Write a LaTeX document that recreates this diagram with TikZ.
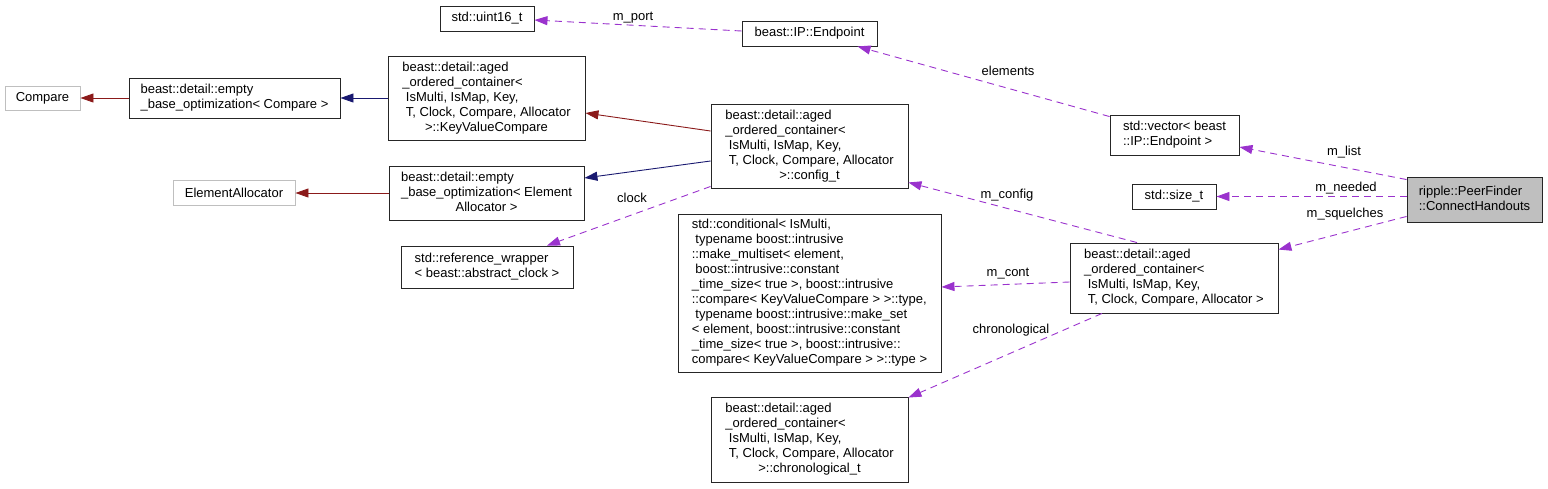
\documentclass[tikz,border=0pt]{standalone}
\usepackage{fontspec}
\setmainfont{Liberation Sans}
\usetikzlibrary{arrows.meta}
\definecolor{dred}{HTML}{8B1A1A}
\definecolor{dblue}{HTML}{191970}
\definecolor{dpurp}{HTML}{9A32CD}
\definecolor{lgray}{HTML}{BFBFBF}
\newcommand{\ctrline}[1]{\multicolumn{1}{@{}c@{}}{#1}}
\newcommand{\lines}[1]{\begin{tabular}{@{}l@{}}#1\end{tabular}}
\tikzset{
  cls/.style={draw=black!85, line width=0.9pt, fill=white, inner sep=0pt, align=left,
    font=\fontsize{13}{15}\selectfont},
  ext/.style={cls, draw=lgray},
  main/.style={cls, fill=lgray},
  tipa/.style={-{Triangle[length=13pt,width=9pt]}},
  redge/.style={draw=dred, line width=0.9pt, tipa},
  bedge/.style={draw=dblue, line width=0.9pt, tipa},
  pedge/.style={draw=dpurp, line width=0.9pt, dash pattern=on 7pt off 5pt, tipa},
  lbl/.style={inner sep=0pt, font=\fontsize{13}{15}\selectfont},
}
\begin{document}
\begin{tikzpicture}[x=1pt,y=-1pt]
\useasboundingbox (0,0) rectangle (1548,488);

\node[ext, minimum width=75pt, minimum height=24pt] (compare) at (42.5,98) {Compare};
\node[cls, minimum width=211pt, minimum height=40pt] (empcmp) at (234.5,98)
  {\lines{beast::detail::empty\\ \_base\_optimization< Compare >}};
\node[cls, minimum width=197pt, minimum height=84pt] (kvc) at (486.5,98)
  {\lines{beast::detail::aged\\ \_ordered\_container<\\ \ IsMulti, IsMap, Key,\\ \ T, Clock, Compare, Allocator\\ \ctrline{>::KeyValueCompare}}};
\node[ext, minimum width=122pt, minimum height=25pt] (elemalloc) at (234,193) {ElementAllocator};
\node[cls, minimum width=195pt, minimum height=54pt] (empea) at (486.5,193)
  {\lines{beast::detail::empty\\ \_base\_optimization< Element\\ \ctrline{Allocator >}}};
\node[cls, minimum width=172pt, minimum height=42pt] (refwrap) at (487,267)
  {\lines{std::reference\_wrapper\\ < beast::abstract\_clock >}};
\node[cls, minimum width=94pt, minimum height=25pt] (uint16) at (487,18.5) {std::uint16\_t};
\node[cls, minimum width=135pt, minimum height=25pt] (endpoint) at (809.5,33.5) {beast::IP::Endpoint};
\node[cls, minimum width=197pt, minimum height=84pt] (config) at (809.5,146)
  {\lines{beast::detail::aged\\ \_ordered\_container<\\ \ IsMulti, IsMap, Key,\\ \ T, Clock, Compare, Allocator\\ \ctrline{>::config\_t}}};
\node[cls, minimum width=263pt, minimum height=158pt] (cond) at (809.5,293)
  {\lines{std::conditional< IsMulti,\\ \ typename boost::intrusive\\ ::make\_multiset< element,\\ \ boost::intrusive::constant\\ \_time\_size< true >, boost::intrusive\\ ::compare< KeyValueCompare > >::type,\\ \ typename boost::intrusive::make\_set\\ < element, boost::intrusive::constant\\ \_time\_size< true >, boost::intrusive::\\ \ctrline{compare< KeyValueCompare > >::type >}}};
\node[cls, minimum width=197pt, minimum height=85pt] (chrono) at (809.5,439.5)
  {\lines{beast::detail::aged\\ \_ordered\_container<\\ \ IsMulti, IsMap, Key,\\ \ T, Clock, Compare, Allocator\\ \ctrline{>::chronological\_t}}};
\node[cls, minimum width=129pt, minimum height=40pt] (vector) at (1174.5,135)
  {\lines{std::vector< beast\\ ::IP::Endpoint >}};
\node[cls, minimum width=84pt, minimum height=25pt] (sizet) at (1174,196.5) {std::size\_t};
\node[cls, minimum width=208pt, minimum height=70pt] (aged) at (1174,278)
  {\lines{beast::detail::aged\\ \_ordered\_container<\\ \ IsMulti, IsMap, Key,\\ \ T, Clock, Compare, Allocator >}};
\node[main, minimum width=135pt, minimum height=45pt] (ch) at (1474.5,199.5)
  {\lines{ripple::PeerFinder\\ ::ConnectHandouts}};

% inheritance edges
\draw[redge] (empcmp) -- (compare);
\draw[bedge] (kvc) -- (empcmp);
\draw[redge] ([yshift=15pt]config.west) -- ([yshift=-15pt]kvc.east);
\draw[bedge] ([yshift=-15pt]config.west) -- ([yshift=15pt]empea.east);
\draw[redge] (empea) -- (elemalloc);

% member edges
\draw[pedge] ([yshift=2pt]config.south west) -- ([xshift=60pt]refwrap.north);
\draw[pedge] ([yshift=2.5pt]endpoint.west) -- ([yshift=-1.5pt]uint16.east);
\draw[pedge] ([yshift=-2pt]vector.north west) -- ([xshift=48pt]endpoint.south);
\draw[pedge] ([yshift=-3pt]ch.north west) -- ([yshift=-12pt]vector.east);
\draw[pedge] (ch.west |- sizet.east) -- (sizet.east);
\draw[pedge] ([yshift=6pt]ch.south west) -- ([yshift=-7pt]aged.north east);
\draw[pedge] ([xshift=-37pt]aged.north) -- ([yshift=6pt]config.south east);
\draw[pedge] ([yshift=-4pt]aged.west) -- ([yshift=6pt]cond.east);
\draw[pedge] ([xshift=-72pt]aged.south) -- ([yshift=-1pt]chrono.north east);

% labels
\node[lbl] (lclock) at (632,198) {clock};
\node[lbl] (lport) at (633,18) {m\_port};
\node[lbl] (lelem) at (1008,71) {elements};
\node[lbl] (llist) at (1344,152) {m\_list};
\node[lbl] (lneed) at (1346,188) {m\_needed};
\node[lbl] (lsq) at (1345,214) {m\_squelches};
\node[lbl] (lconf) at (1007,195) {m\_config};
\node[lbl] (lcont) at (1008,274) {m\_cont};
\node[lbl] (lchr) at (1011,330) {chronological};
\end{tikzpicture}
\end{document}
